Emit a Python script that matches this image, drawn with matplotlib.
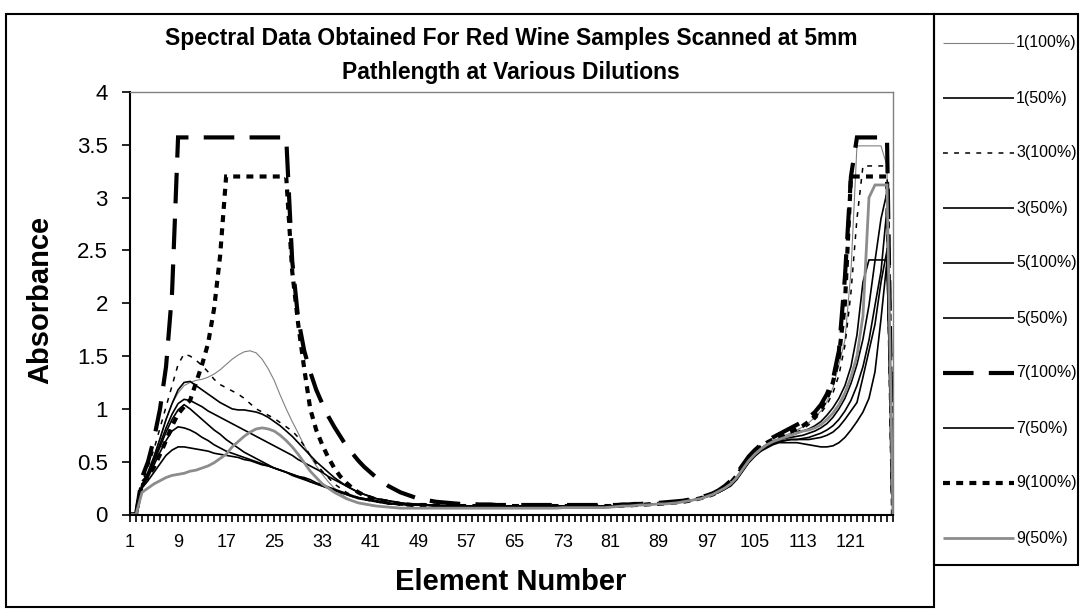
import matplotlib
matplotlib.use('Agg')
import matplotlib.pyplot as plt
from matplotlib.lines import Line2D
from matplotlib.patches import Rectangle

plt.rcParams['font.family'] = ['Liberation Sans', 'DejaVu Sans']
plt.rcParams['lines.scale_dashes'] = False

elements = list(range(1, 129))

s1_100 = [
    0, 0, 0.28, 0.41, 0.55, 0.72, 0.9, 1.05, 1.15, 1.22, 1.25, 1.27, 1.28, 1.3, 1.33, 1.37,
    1.42, 1.47, 1.51, 1.54, 1.55, 1.53, 1.47, 1.38, 1.27, 1.13, 1.0, 0.88, 0.77, 0.65, 0.55, 0.46,
    0.38, 0.31, 0.25, 0.2, 0.16, 0.13, 0.11, 0.095, 0.085, 0.08, 0.075, 0.07, 0.07, 0.065, 0.065, 0.065,
    0.065, 0.065, 0.065, 0.065, 0.065, 0.065, 0.065, 0.065, 0.065, 0.065, 0.07, 0.07, 0.07, 0.07, 0.07, 0.07,
    0.07, 0.07, 0.07, 0.07, 0.07, 0.07, 0.07, 0.07, 0.07, 0.07, 0.075, 0.075, 0.075, 0.075, 0.075, 0.075,
    0.075, 0.08, 0.08, 0.085, 0.085, 0.09, 0.09, 0.095, 0.1, 0.1, 0.105, 0.11, 0.12, 0.13, 0.14, 0.15,
    0.17, 0.19, 0.22, 0.26, 0.3, 0.36, 0.44, 0.52, 0.58, 0.63, 0.67, 0.7, 0.72, 0.75, 0.77, 0.8,
    0.83, 0.87, 0.92, 0.98, 1.07, 1.2, 1.42, 1.65, 2.3, 3.49, 3.49, 3.49, 3.49, 3.49, 3.3, 0.0]

s1_50 = [
    0, 0, 0.27, 0.38, 0.52, 0.67, 0.82, 0.95, 1.05, 1.09, 1.08, 1.05, 1.02, 0.98, 0.95, 0.92,
    0.89, 0.86, 0.83, 0.8, 0.77, 0.74, 0.71, 0.68, 0.65, 0.62, 0.59, 0.56, 0.52, 0.49, 0.46, 0.43,
    0.4, 0.36, 0.33, 0.3, 0.27, 0.24, 0.21, 0.19, 0.17, 0.15, 0.14, 0.13, 0.12, 0.11, 0.1, 0.1,
    0.095, 0.09, 0.09, 0.085, 0.085, 0.08, 0.08, 0.08, 0.08, 0.08, 0.08, 0.08, 0.08, 0.08, 0.08, 0.08,
    0.08, 0.08, 0.08, 0.08, 0.08, 0.08, 0.08, 0.08, 0.08, 0.08, 0.08, 0.08, 0.08, 0.08, 0.08, 0.08,
    0.08, 0.08, 0.085, 0.085, 0.09, 0.09, 0.095, 0.1, 0.1, 0.105, 0.11, 0.115, 0.12, 0.13, 0.14, 0.155,
    0.17, 0.19, 0.22, 0.25, 0.28, 0.34, 0.42, 0.5, 0.56, 0.61, 0.65, 0.68, 0.7, 0.72, 0.73, 0.74,
    0.75, 0.77, 0.79, 0.82, 0.86, 0.92, 1.0, 1.1, 1.24, 1.42, 1.66, 1.98, 2.4, 2.8, 3.05, 0.0]

s3_100 = [
    0, 0, 0.3, 0.45, 0.62, 0.82, 1.02, 1.22, 1.42, 1.52, 1.5, 1.46, 1.41, 1.35, 1.28, 1.23,
    1.2, 1.17, 1.14, 1.1, 1.05, 1.0, 0.97, 0.94, 0.91, 0.87, 0.83, 0.79, 0.73, 0.65, 0.56, 0.48,
    0.41, 0.35, 0.29, 0.25, 0.21, 0.18, 0.16, 0.14, 0.13, 0.12, 0.11, 0.1, 0.095, 0.09, 0.09, 0.085,
    0.085, 0.085, 0.08, 0.08, 0.08, 0.08, 0.08, 0.08, 0.08, 0.08, 0.08, 0.08, 0.08, 0.08, 0.08, 0.08,
    0.08, 0.08, 0.08, 0.08, 0.08, 0.08, 0.08, 0.08, 0.08, 0.08, 0.08, 0.08, 0.08, 0.08, 0.08, 0.08,
    0.08, 0.08, 0.085, 0.085, 0.09, 0.09, 0.095, 0.1, 0.1, 0.105, 0.11, 0.115, 0.12, 0.13, 0.14, 0.155,
    0.17, 0.19, 0.22, 0.26, 0.29, 0.35, 0.43, 0.51, 0.57, 0.62, 0.66, 0.69, 0.71, 0.73, 0.75, 0.78,
    0.81, 0.85, 0.9, 0.96, 1.04, 1.15, 1.32, 1.6, 2.1, 2.8, 3.3, 3.3, 3.3, 3.3, 3.3, 0.0]

s3_50 = [
    0, 0, 0.27, 0.37, 0.5, 0.64, 0.78, 0.9, 0.99, 1.04, 1.0, 0.95, 0.9, 0.85, 0.8, 0.76,
    0.71, 0.67, 0.63, 0.59, 0.56, 0.53, 0.5, 0.47, 0.44, 0.42, 0.4, 0.37, 0.35, 0.33, 0.31, 0.29,
    0.27, 0.25, 0.23, 0.21, 0.19, 0.17, 0.16, 0.15, 0.14, 0.13, 0.12, 0.11, 0.1, 0.1, 0.095, 0.09,
    0.09, 0.09, 0.085, 0.085, 0.08, 0.08, 0.08, 0.08, 0.08, 0.08, 0.08, 0.08, 0.08, 0.08, 0.08, 0.08,
    0.08, 0.08, 0.08, 0.08, 0.08, 0.08, 0.08, 0.08, 0.08, 0.08, 0.08, 0.08, 0.08, 0.08, 0.08, 0.08,
    0.08, 0.08, 0.085, 0.085, 0.09, 0.09, 0.095, 0.1, 0.1, 0.105, 0.11, 0.115, 0.12, 0.13, 0.14, 0.155,
    0.17, 0.19, 0.21, 0.24, 0.28, 0.34, 0.42, 0.5, 0.56, 0.61, 0.64, 0.67, 0.69, 0.7, 0.71, 0.71,
    0.72, 0.73, 0.75, 0.77, 0.8, 0.84, 0.9, 0.98, 1.08, 1.22, 1.4, 1.65, 1.98, 2.3, 2.9, 0.0]

s5_100 = [
    0, 0, 0.28, 0.4, 0.55, 0.72, 0.9, 1.05, 1.18, 1.25, 1.26, 1.22, 1.18, 1.14, 1.1, 1.06,
    1.03, 1.0, 0.99, 0.99, 0.98, 0.97, 0.95, 0.92, 0.88, 0.84, 0.79, 0.74, 0.68, 0.62, 0.56, 0.5,
    0.45, 0.4, 0.35, 0.31, 0.27, 0.24, 0.21, 0.19, 0.17, 0.15, 0.14, 0.13, 0.12, 0.11, 0.105, 0.1,
    0.1, 0.095, 0.09, 0.09, 0.085, 0.085, 0.08, 0.08, 0.08, 0.08, 0.08, 0.08, 0.08, 0.08, 0.08, 0.08,
    0.08, 0.08, 0.08, 0.08, 0.08, 0.08, 0.08, 0.08, 0.08, 0.08, 0.08, 0.08, 0.08, 0.08, 0.08, 0.08,
    0.08, 0.08, 0.085, 0.085, 0.09, 0.09, 0.095, 0.1, 0.1, 0.105, 0.11, 0.115, 0.12, 0.13, 0.14, 0.155,
    0.17, 0.19, 0.22, 0.26, 0.29, 0.35, 0.43, 0.51, 0.57, 0.62, 0.66, 0.69, 0.71, 0.73, 0.75, 0.77,
    0.79, 0.81, 0.84, 0.88, 0.94, 1.01, 1.1, 1.22, 1.4, 1.7, 2.2, 2.41, 2.41, 2.41, 2.41, 0.0]

s5_50 = [
    0, 0, 0.26, 0.35, 0.47, 0.59, 0.7, 0.79, 0.83, 0.82, 0.8, 0.77, 0.73, 0.7, 0.66, 0.63,
    0.6, 0.58, 0.56, 0.54, 0.52, 0.5, 0.48, 0.46, 0.44, 0.42, 0.4, 0.38, 0.36, 0.34, 0.31, 0.29,
    0.27, 0.25, 0.23, 0.21, 0.19, 0.17, 0.15, 0.14, 0.13, 0.12, 0.11, 0.1, 0.1, 0.095, 0.09, 0.09,
    0.09, 0.09, 0.085, 0.085, 0.08, 0.08, 0.08, 0.08, 0.08, 0.08, 0.08, 0.08, 0.08, 0.08, 0.08, 0.08,
    0.08, 0.08, 0.08, 0.08, 0.08, 0.08, 0.08, 0.08, 0.08, 0.08, 0.08, 0.08, 0.08, 0.08, 0.08, 0.08,
    0.08, 0.08, 0.085, 0.085, 0.09, 0.09, 0.095, 0.1, 0.1, 0.105, 0.11, 0.115, 0.12, 0.13, 0.14, 0.155,
    0.17, 0.19, 0.21, 0.24, 0.28, 0.34, 0.42, 0.5, 0.56, 0.6, 0.64, 0.67, 0.69, 0.7, 0.71, 0.71,
    0.71, 0.71, 0.72, 0.73, 0.75, 0.78, 0.83, 0.9, 0.98, 1.06, 1.3, 1.55, 1.8, 2.2, 2.5, 0.0]

s7_100 = [
    0, 0, 0.35, 0.5, 0.72, 1.0, 1.4, 2.1, 3.57, 3.57, 3.57, 3.57, 3.57, 3.57, 3.57, 3.57,
    3.57, 3.57, 3.57, 3.57, 3.57, 3.57, 3.57, 3.57, 3.57, 3.57, 3.57, 2.4, 1.85, 1.55, 1.35, 1.18,
    1.05, 0.93, 0.83, 0.74, 0.65, 0.58, 0.51, 0.45, 0.4, 0.35, 0.31, 0.27, 0.24, 0.21, 0.19, 0.17,
    0.15, 0.14, 0.13, 0.12, 0.115, 0.11, 0.105, 0.1, 0.1, 0.1, 0.095, 0.095, 0.095, 0.09, 0.09, 0.09,
    0.09, 0.09, 0.09, 0.09, 0.09, 0.09, 0.09, 0.09, 0.09, 0.09, 0.09, 0.09, 0.09, 0.09, 0.09, 0.09,
    0.09, 0.09, 0.095, 0.095, 0.1, 0.1, 0.105, 0.11, 0.11, 0.115, 0.12, 0.125, 0.13, 0.14, 0.15, 0.165,
    0.18, 0.2, 0.23, 0.27, 0.32, 0.39, 0.47, 0.55, 0.61, 0.66, 0.7, 0.73, 0.76, 0.79, 0.82, 0.85,
    0.88, 0.92, 0.97, 1.04, 1.14, 1.28, 1.55, 2.25, 3.2, 3.57, 3.57, 3.57, 3.57, 3.57, 3.57, 0.0]

s7_50 = [
    0, 0, 0.25, 0.32, 0.4, 0.48, 0.56, 0.61, 0.64, 0.64, 0.63, 0.62, 0.61, 0.6, 0.58, 0.57,
    0.56, 0.55, 0.54, 0.52, 0.51, 0.49, 0.47, 0.46, 0.44, 0.42, 0.4, 0.38, 0.36, 0.35, 0.33, 0.3,
    0.28, 0.26, 0.24, 0.22, 0.2, 0.18, 0.16, 0.15, 0.14, 0.13, 0.12, 0.11, 0.1, 0.1, 0.095, 0.09,
    0.09, 0.09, 0.085, 0.085, 0.08, 0.08, 0.08, 0.08, 0.08, 0.08, 0.08, 0.08, 0.08, 0.08, 0.08, 0.08,
    0.08, 0.08, 0.08, 0.08, 0.08, 0.08, 0.08, 0.08, 0.08, 0.08, 0.08, 0.08, 0.08, 0.08, 0.08, 0.08,
    0.08, 0.08, 0.085, 0.085, 0.09, 0.09, 0.095, 0.1, 0.1, 0.105, 0.11, 0.115, 0.12, 0.13, 0.14, 0.155,
    0.17, 0.19, 0.21, 0.24, 0.27, 0.33, 0.41, 0.49, 0.55, 0.6, 0.63, 0.66, 0.68, 0.68, 0.68, 0.68,
    0.67, 0.66, 0.65, 0.64, 0.64, 0.65, 0.68, 0.73, 0.8, 0.88, 0.97, 1.1, 1.35, 1.85, 2.4, 0.0]

s9_100 = [
    0, 0, 0.3, 0.36, 0.45, 0.57, 0.7, 0.84, 0.95, 1.02, 1.08, 1.25, 1.42, 1.62, 1.95, 2.45,
    3.2, 3.2, 3.2, 3.2, 3.2, 3.2, 3.2, 3.2, 3.2, 3.2, 3.2, 2.3, 1.8, 1.38, 1.0, 0.8,
    0.66, 0.54, 0.44, 0.36, 0.3, 0.25, 0.21, 0.18, 0.16, 0.14, 0.13, 0.12, 0.11, 0.1, 0.095, 0.09,
    0.09, 0.09, 0.085, 0.085, 0.085, 0.08, 0.08, 0.08, 0.08, 0.08, 0.08, 0.08, 0.08, 0.08, 0.08, 0.08,
    0.08, 0.08, 0.08, 0.08, 0.08, 0.08, 0.08, 0.08, 0.08, 0.08, 0.08, 0.08, 0.08, 0.08, 0.08, 0.08,
    0.08, 0.08, 0.085, 0.085, 0.09, 0.09, 0.095, 0.1, 0.1, 0.105, 0.11, 0.115, 0.12, 0.13, 0.14, 0.155,
    0.17, 0.19, 0.22, 0.26, 0.3, 0.37, 0.45, 0.53, 0.59, 0.64, 0.68, 0.71, 0.73, 0.76, 0.78, 0.81,
    0.84, 0.88, 0.93, 1.0, 1.1, 1.25, 1.5, 2.0, 3.2, 3.2, 3.2, 3.2, 3.2, 3.2, 3.2, 0.0]

s9_50 = [
    0, 0, 0.21, 0.25, 0.29, 0.32, 0.35, 0.37, 0.38, 0.39, 0.41, 0.42, 0.44, 0.46, 0.49, 0.53,
    0.57, 0.64, 0.69, 0.74, 0.78, 0.81, 0.82, 0.81, 0.79, 0.75, 0.7, 0.64, 0.57, 0.49, 0.41, 0.35,
    0.29, 0.25, 0.21, 0.18, 0.15, 0.13, 0.11, 0.1, 0.09, 0.08, 0.075, 0.07, 0.065, 0.06, 0.06, 0.06,
    0.06, 0.06, 0.06, 0.06, 0.06, 0.06, 0.06, 0.06, 0.06, 0.06, 0.06, 0.06, 0.06, 0.06, 0.06, 0.06,
    0.06, 0.06, 0.06, 0.06, 0.06, 0.06, 0.06, 0.06, 0.065, 0.065, 0.065, 0.065, 0.065, 0.065, 0.065, 0.065,
    0.07, 0.075, 0.08, 0.08, 0.085, 0.09, 0.09, 0.095, 0.1, 0.1, 0.105, 0.11, 0.12, 0.13, 0.14, 0.15,
    0.17, 0.19, 0.22, 0.25, 0.29, 0.35, 0.43, 0.51, 0.57, 0.62, 0.66, 0.69, 0.71, 0.73, 0.75, 0.77,
    0.79, 0.8, 0.82, 0.85, 0.9, 0.96, 1.04, 1.15, 1.3, 1.5, 1.88, 3.0, 3.12, 3.12, 3.12, 0.0]

labels = ['1(100%)', '1(50%)', '3(100%)', '3(50%)', '5(100%)',
          '5(50%)', '7(100%)', '7(50%)', '9(100%)', '9(50%)']
series = [s1_100, s1_50, s3_100, s3_50, s5_100, s5_50, s7_100, s7_50, s9_100, s9_50]

# line styles: (colour, width, dash pattern in points or None)
styles = [
    ('#808080', 0.8, None),
    ('black', 1.2, None),
    ('black', 1.1, (3.5, 4.5)),
    ('black', 1.2, None),
    ('black', 1.2, None),
    ('black', 1.2, None),
    ('black', 3.0, (22, 11)),
    ('black', 1.2, None),
    ('black', 3.0, (5, 4.5)),
    ('#8c8c8c', 2.0, None),
]

W, H = 1083, 610
fig = plt.figure(figsize=(W / 100, H / 100), dpi=100)

def fx(px):
    return px / W

def fy(py):
    return 1 - py / H

ax = fig.add_axes([fx(130), fy(514.5), fx(893) - fx(130), fy(92) - fy(514.5)])

for vals, lab, (col, lw, dash) in zip(series, labels, styles):
    line, = ax.plot(elements, vals, color=col, lw=lw, label=lab,
                    solid_joinstyle='miter', dash_joinstyle='miter')
    if dash:
        line.set_dashes(dash)

ax.set_xlim(1, 128)
ax.set_ylim(0, 4)
ax.set_yticks([0, 0.5, 1, 1.5, 2, 2.5, 3, 3.5, 4])
ax.set_yticklabels(['0', '0.5', '1', '1.5', '2', '2.5', '3', '3.5', '4'])
ax.set_xticks(list(range(1, 122, 8)))
ax.set_xticklabels([str(e) for e in range(1, 122, 8)])
ax.set_xticks(elements, minor=True)
ax.tick_params(axis='y', direction='out', length=6, width=1.2, labelsize=16, pad=10)
ax.tick_params(axis='x', which='both', direction='out', length=5, width=1.2, labelsize=13, pad=9)

for side in ['top', 'right']:
    ax.spines[side].set_color('#808080')
    ax.spines[side].set_linewidth(1.0)
for side in ['left', 'bottom']:
    ax.spines[side].set_color('black')
    ax.spines[side].set_linewidth(1.5)

fig.text(fx(40), fy(300), 'Absorbance', rotation=90, ha='center', va='center',
         fontsize=21, fontweight='bold')
fig.text(fx(511), fy(582), 'Element Number', ha='center', va='center',
         fontsize=21, fontweight='bold')
fig.text(fx(511), fy(39), 'Spectral Data Obtained For Red Wine Samples Scanned at 5mm',
         ha='center', va='center', fontsize=16.5, fontweight='bold')
fig.text(fx(511), fy(72), 'Pathlength at Various Dilutions',
         ha='center', va='center', fontsize=16.5, fontweight='bold')

# chart area border
fig.add_artist(Rectangle((fx(6), fy(607)), fx(934) - fx(6), fy(14) - fy(607),
                         transform=fig.transFigure, fill=False, ec='black', lw=1.5))

# legend box
leg = Rectangle((fx(934), fy(565)), fx(1078) - fx(934), fy(14) - fy(565),
                transform=fig.transFigure, fill=False, ec='black', lw=1.5)
fig.add_artist(leg)

for i, (lab, (col, lw, dash)) in enumerate(zip(labels, styles)):
    y = fy(43 + 55 * i)
    ln = Line2D([fx(943), fx(1014)], [y, y], transform=fig.transFigure,
                color=col, lw=lw, solid_capstyle='butt', dash_capstyle='butt')
    if dash:
        ln.set_dashes(dash)
    fig.add_artist(ln)
    t = fig.text(fx(1016), y, lab, ha='left', va='center', fontsize=11.5)
    t.set_clip_path(leg)

fig.savefig('out.png', dpi=100)
